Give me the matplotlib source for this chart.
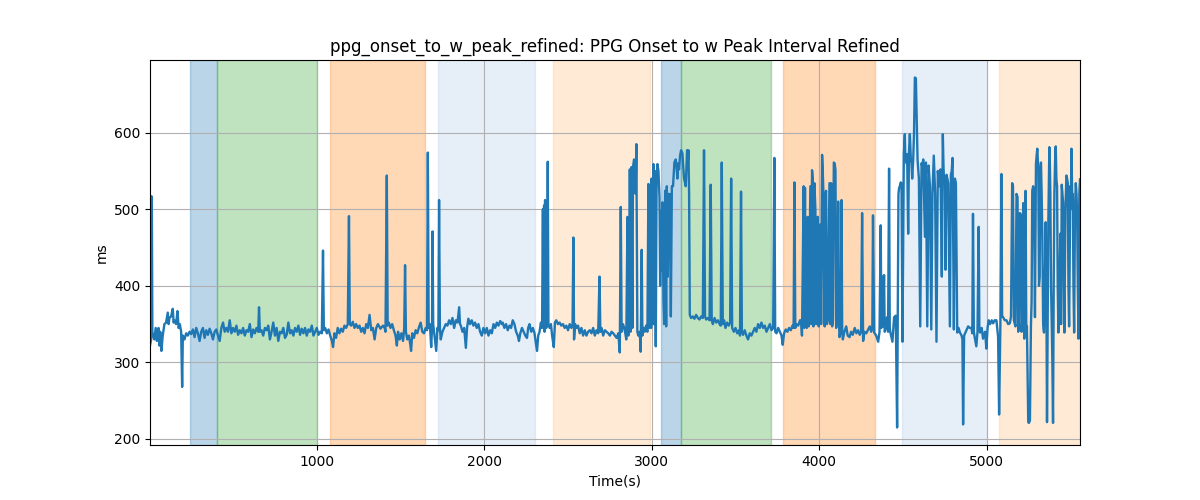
import matplotlib
matplotlib.use("Agg")
import matplotlib.pyplot as plt

# ---- data (time in s, interval in ms) ----
seg1 = [(4,322),(11,330),(13,517),(15,505),(18,340),(22,335),(30,330),(38,345),(45,328),(50,330),(55,345),(60,322),(65,340),(72,315),(80,335),
        (90,350),(100,352),(110,365),(115,350),(120,358),(130,360),(140,370),(145,352),(150,355),(160,350),(168,367),(175,345),
        (182,350),(190,340),(196,268),(200,335),(210,330),(220,338),(230,335),(240,340),(250,337),(260,343),(270,333),(280,345),
        (290,338),(300,328),(310,340),(320,345),(330,332),(340,342),(350,336),(360,344),(370,338),(380,330),(390,340),(400,343),
        (410,335),(420,328),(430,345),(440,352),(450,340),(460,345),(470,340),(480,355),(490,338),(500,345),(510,340),(520,348),
        (530,336),(540,342),(550,338),(560,345),(570,335),(580,342),(590,340),(600,350),(610,333),(620,343),(630,338),(640,345),
        (650,340),(655,372),(660,340),(670,342),(680,335),(690,345)]
seg2 = [(700,342),(710,348),(720,330),(730,340),(740,352),(750,335),(760,345),(770,328),(780,340),(790,338),(800,345),(810,332),
        (820,336),(830,352),(840,338),(850,342),(860,335),(870,345),(880,340),(890,348),(900,336),(910,344),(920,338),(930,345),
        (940,335),(950,343),(960,340),(970,348),(980,335),(990,340),(1000,345),(1010,336),(1020,340),(1030,338),(1037,446),
        (1042,342),(1050,345),(1060,338),(1070,343),(1080,335),(1090,328),(1097,320),(1105,338),(1115,332),(1125,345),(1135,338),
        (1145,344),(1155,340),(1165,348),(1175,345),(1185,350),(1192,491),(1197,350),(1205,348),(1215,353),(1225,345),(1235,350),
        (1245,345),(1255,348),(1265,340),(1275,345),(1285,338),(1295,350),(1305,345),(1315,362),(1325,342),(1335,345),(1345,330),
        (1355,345),(1365,350),(1380,344),(1395,348),(1405,345)]
seg3 = [(1410,340),(1418,544),(1423,348),(1430,352),(1440,345),(1450,350),(1460,342),(1470,335),(1478,322),(1485,340),(1495,330),
        (1505,338),(1515,328),(1522,345),(1527,427),(1532,340),(1540,330),(1550,335),(1557,325),(1563,315),(1570,338),(1580,332),
        (1590,342),(1600,338),(1610,346),(1620,352),(1630,340),(1640,338),(1650,345),(1658,342),(1663,574),(1668,345),(1675,350),
        (1683,320),(1688,345),(1691,471),(1695,350),(1700,340),(1707,325),(1713,315),(1720,345),(1726,342),(1730,512),(1735,345),
        (1740,330),(1750,340),(1760,345),(1770,350),(1780,348),(1790,355),(1800,350),(1810,358),(1820,345),(1830,355),(1840,352),
        (1850,372),(1855,350),(1860,348),(1870,340),(1880,345),(1890,319),(1897,345),(1905,357),(1915,350),(1925,355),(1935,348),
        (1945,352),(1955,345),(1965,350),(1975,340),(1985,335),(1995,345),(2005,338),(2015,345),(2025,335),(2035,342),(2045,338),
        (2055,350),(2065,345),(2075,352),(2085,348),(2095,354),(2105,350)]
seg4 = [(2110,352),(2120,345),(2130,350),(2140,342),(2150,348),(2160,345),(2170,355),(2180,350),(2190,340),(2200,335),(2207,328),
        (2215,338),(2225,345),(2235,340),(2245,335),(2255,332),(2262,345),(2270,350),(2280,340),(2290,345),(2300,338),(2308,325),
        (2315,315),(2322,335),(2330,340),(2338,352),(2345,345),(2350,500),(2353,350),(2357,505),(2360,340),(2363,512),(2366,355),
        (2370,345),(2375,352),(2379,562),(2383,350),(2390,345),(2398,350),(2405,335),(2415,320),(2422,352),(2430,355),(2440,350),
        (2450,352),(2460,348),(2470,350),(2480,345),(2490,348),(2500,342),(2510,350),(2520,345),(2527,350),(2532,463),(2536,330),
        (2542,350),(2550,345),(2560,348),(2570,338),(2580,345),(2590,335),(2600,342),(2610,335),(2620,340),(2630,342),(2640,338),
        (2650,345),(2660,335),(2670,342),(2680,338),(2688,412),(2693,340),(2700,345),(2710,335),(2720,342),(2730,340),(2740,338),
        (2750,335),(2760,340),(2770,338),(2780,335),(2790,332)]
seg5 = [(2800,338),(2809,313),(2815,503),(2820,340),(2828,350),(2836,345),(2842,338),(2848,330),(2855,490),(2860,335),(2866,345),
        (2869,552),(2873,340),(2879,555),(2884,345),(2888,555),(2894,565),(2900,560),(2904,520),(2908,585),(2914,340),(2920,335),
        (2928,340),(2934,314),(2940,447),(2944,335),(2950,345),(2958,340),(2966,348),(2974,340),(2980,533),(2984,345),(2987,480),
        (2990,350),(2993,520),(2996,345),(2999,540),(3002,350),(3006,500),(3010,559),(3014,350),(3018,550),(3024,321),(3029,540),
        (3034,559),(3040,550),(3046,516),(3050,400),(3054,497),(3059,420),(3064,509),(3070,380),(3074,350),(3080,524),(3086,347),
        (3090,530),(3096,412),(3100,520),(3104,450),(3108,520),(3114,360),(3120,530),(3127,530),(3135,561),(3143,565),(3148,555),
        (3153,540),(3158,560),(3163,552),(3169,570),(3175,577),(3183,573),(3188,555),(3193,540),(3203,530),(3211,577),(3215,560),
        (3219,577),(3223,520),(3227,362)]
seg6 = [(3235,358),(3245,360),(3255,357),(3265,362),(3275,358),(3285,356),(3295,360),(3305,358),(3312,577),(3318,360),(3325,356),
        (3335,358),(3345,355),(3352,532),(3358,355),(3365,350),(3375,358),(3385,352),(3395,355),(3405,350),(3412,348),(3418,561),
        (3424,350),(3432,355),(3440,345),(3450,352),(3460,348),(3468,352),(3474,540),(3480,345),(3490,340),(3500,345),(3510,338),
        (3520,342),(3527,335),(3533,523),(3538,340),(3545,336),(3555,342),(3565,335),(3575,330),(3585,338),(3595,335),(3605,340),
        (3615,345),(3625,340),(3635,350),(3645,345),(3655,352),(3665,345),(3675,348),(3685,340),(3695,345),(3705,350),(3715,342),
        (3725,345),(3732,567),(3737,340),(3745,338),(3755,345),(3765,340),(3775,335),(3782,323),(3790,338),(3800,343),(3810,340),
        (3820,345),(3830,342),(3840,348),(3847,345),(3852,535),(3857,345),(3865,350),(3875,348),(3885,355),(3891,355),(3897,335),
        (3907,530),(3911,345),(3915,528),(3918,350),(3921,470),(3926,345),(3931,490),(3937,347),(3947,530),(3952,350),(3957,551),
        (3961,540),(3965,347),(3971,534),(3977,500),(3981,350),(3985,352),(3991,490),(3997,347),(4005,480),(4011,350),(4017,571),
        (4021,550),(4025,520),(4029,350),(4033,347),(4037,520),(4041,524),(4046,350),(4051,355),(4056,450),(4061,534),(4066,350),
        (4071,534),(4077,347),(4082,355),(4087,561),(4092,560),(4097,551),(4101,345),(4105,351),(4109,355),(4113,510),(4117,360),
        (4121,333),(4127,340),(4133,512),(4137,340),(4141,330),(4150,340),(4161,347),(4170,335),(4181,333),(4190,340),(4200,336)]
seg7 = [(4212,345),(4222,338),(4232,342),(4242,336),(4250,340),(4256,495),(4262,328),(4270,340),(4281,338),(4290,342),(4302,347),
        (4310,340),(4317,345),(4321,492),(4328,339),(4340,335),(4352,327),(4360,340),(4367,479),(4371,345),(4375,412),(4381,347),
        (4387,414),(4391,340),(4395,343),(4405,359),(4411,340),(4417,553),(4421,345),(4425,339),(4437,327),(4447,359),(4457,361),
        (4465,215),(4473,520),(4477,528),(4481,530),(4486,535),(4491,534),(4497,327),(4505,572),(4511,598),(4514,565),(4517,567),
        (4522,560),(4525,572),(4531,468),(4536,575),(4541,598),(4547,565),(4551,560),(4555,540),(4561,565),(4566,600),(4571,672),
        (4577,671),(4582,620),(4587,565),(4595,540),(4603,347),(4611,560),(4616,555),(4621,565),(4631,464),(4637,561),(4645,347),
        (4653,557),(4661,530),(4669,343),(4676,520),(4684,570),(4692,520),(4700,327),(4708,550),(4712,540),(4716,530),(4724,552),
        (4732,412),(4738,598),(4742,555),(4746,534),(4750,540),(4754,421),(4760,545),(4765,540),(4770,534),(4780,347),(4786,545),
        (4791,550),(4796,567),(4804,343),(4810,540),(4816,534),(4824,339),(4832,345),(4840,339),(4850,335),(4855,330),(4859,219),
        (4865,335),(4875,340),(4889,347),(4899,345)]
seg8 = [(4909,345),(4914,338),(4918,494),(4923,340),(4928,333),(4938,321),(4945,340),(4952,477),(4956,345),(4960,339),(4970,345),
        (4978,331),(4990,340),(4998,318),(5005,345),(5012,355),(5020,350),(5030,355),(5038,351),(5048,355),(5058,355),(5068,333),
        (5074,232),(5082,355),(5088,546),(5092,360),(5098,359),(5108,355),(5118,355),(5128,350),(5138,351),(5145,360),(5152,534),
        (5157,530),(5162,355),(5168,350),(5172,347),(5178,520),(5184,516),(5188,340),(5192,347),(5198,495),(5204,493),(5208,340),
        (5212,355),(5218,508),(5224,331),(5228,480),(5232,524),(5236,350),(5240,347),(5248,222),(5252,221),(5258,224),(5264,347),
        (5268,380),(5272,524),(5277,530),(5282,524),(5288,359),(5294,559),(5298,570),(5302,579),(5308,551),(5312,400),(5316,412),
        (5320,550),(5324,561),(5328,520),(5332,468),(5337,350),(5342,339),(5347,400),(5352,483),(5356,400),(5360,222),(5364,350),
        (5368,485),(5374,581),(5377,560),(5380,520),(5384,400),(5388,355),(5392,300),(5396,221),(5400,400),(5404,520),(5408,560),
        (5412,582),(5416,540),(5420,530),(5424,400),(5428,339),(5434,400),(5440,468),(5444,350),(5448,532),(5452,520),(5456,509),
        (5460,400),(5464,339),(5470,500),(5476,544),(5480,540),(5484,534),(5488,400),(5492,347),(5496,450),(5498,530),(5502,500),
        (5506,579),(5510,520),(5514,520),(5518,400),(5522,339),(5527,500),(5532,534),(5536,520),(5540,493),(5544,400),(5548,331),
        (5553,520),(5557,539)]

segments = [seg1, seg2, seg3, seg4, seg5, seg6, seg7, seg8]
time_s = [t for seg in segments for t, _ in seg]
interval_ms = [v for seg in segments for _, v in seg]

span_starts = [242, 405, 1078, 1722, 2409, 3054, 3173, 3782, 4494, 5072]
span_ends = [405, 1004, 1648, 2304, 2992, 3173, 3714, 4334, 5000, 5557]
span_colors = ['#1f77b4', '#2ca02c', '#ff7f0e', '#aec7e8', '#ffbb78',
               '#1f77b4', '#2ca02c', '#ff7f0e', '#aec7e8', '#ffbb78']

fig, ax = plt.subplots(figsize=(12, 5), dpi=100)
for s, e, c in zip(span_starts, span_ends, span_colors):
    ax.axvspan(s, e, color=c, alpha=0.3)
ax.plot(time_s, interval_ms, color='#1f77b4', linewidth=1.7)
ax.set_xlim(time_s[0], time_s[-1])
ax.grid(True)
ax.set_title("ppg_onset_to_w_peak_refined: PPG Onset to w Peak Interval Refined")
ax.set_xlabel("Time(s)")
ax.set_ylabel("ms")
fig.savefig("out.png", dpi=100)
